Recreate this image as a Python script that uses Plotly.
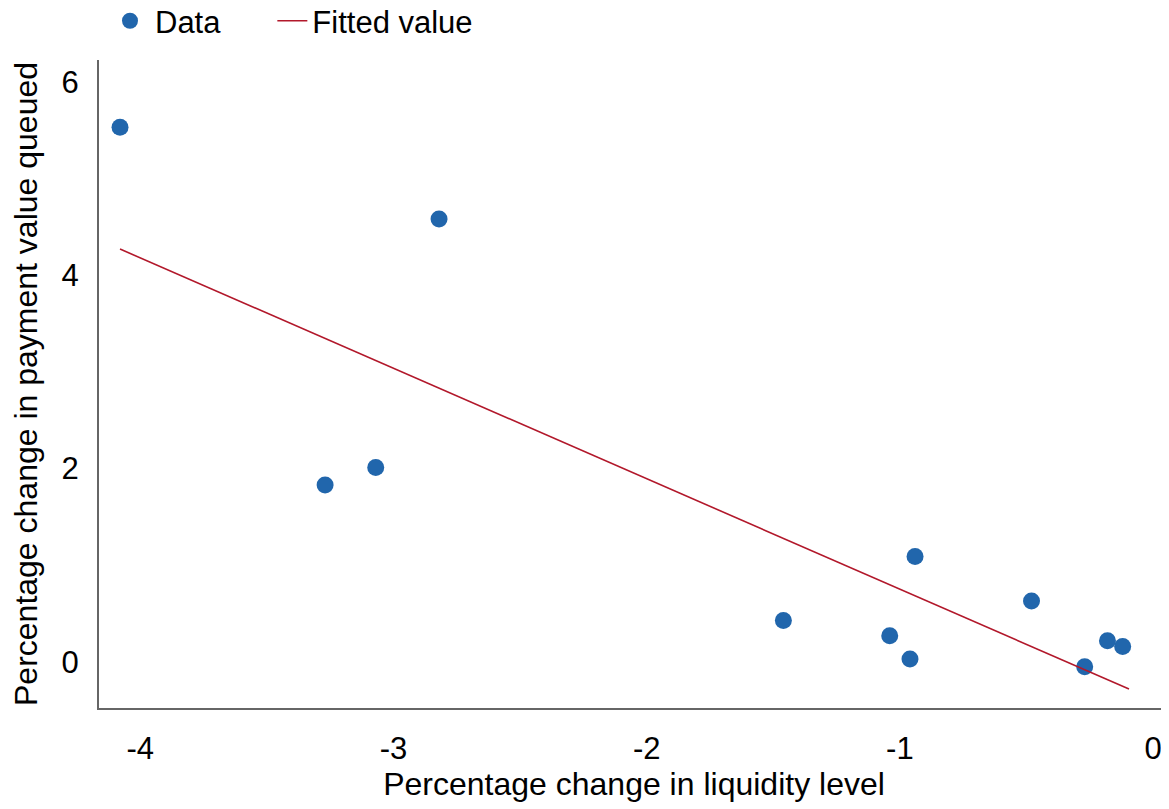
"""Payment value queued vs liquidity level, with fitted line."""
import plotly.graph_objects as go

# observed points
liquidity_change = [-4.08, -2.82, -3.27, -3.07, -1.46, -1.04, -0.96, -0.94,
                    -0.48, -0.27, -0.18, -0.12]
queued_change = [5.53, 4.58, 1.83, 2.01, 0.43, 0.27, 0.03, 1.09,
                 0.63, -0.05, 0.22, 0.16]

# fitted line end points
fit_x = [-4.08, -0.095]
fit_y = [4.27, -0.28]

x_tick_vals = [-4, -3, -2, -1, 0]
x_tick_text = ["-4", "-3", "-2", "-1", "0"]
y_tick_vals = [0, 2, 4, 6]
y_tick_text = ["0", "2", "4", "6"]

FONT = "Liberation Sans, Arial, sans-serif"
BLUE = "#2166ac"
RED = "#b2182b"

fig = go.Figure()
fig.add_trace(go.Scatter(
    x=liquidity_change, y=queued_change,
    mode="markers", name="Data", legend="legend",
    marker=dict(color=BLUE, size=17, line=dict(width=0)),
))
fig.add_trace(go.Scatter(
    x=fit_x, y=fit_y,
    mode="lines", name="Fitted value", legend="legend2",
    line=dict(color=RED, width=1.6),
))

# page has an 8px body margin, so the figure is sized/offset to suit
legend_common = dict(orientation="h", xanchor="left", y=1.06,
                     yanchor="middle", font=dict(size=31),
                     bgcolor="rgba(0,0,0,0)")

fig.update_layout(
    width=1161, height=801,
    margin=dict(l=91, r=0, t=52, b=101, autoexpand=False),
    paper_bgcolor="white", plot_bgcolor="white",
    font=dict(family=FONT, size=32, color="black"),
    showlegend=True,
    legend=dict(x=0.0056, itemwidth=40, **legend_common),
    legend2=dict(x=0.162, itemwidth=30, **legend_common),
    xaxis=dict(
        range=[-4.163, 0.063],
        tickvals=x_tick_vals, ticktext=x_tick_text,
        showgrid=False, zeroline=False, automargin=False,
        showline=True, linecolor="#666666", linewidth=2,
        ticks="outside", ticklen=12, tickcolor="rgba(0,0,0,0)",
        tickfont=dict(size=31),
        title=dict(text="Percentage change in liquidity level",
                   font=dict(size=32), standoff=4),
    ),
    yaxis=dict(
        range=[-0.476, 6.225],
        tickvals=y_tick_vals, ticktext=y_tick_text,
        showgrid=False, zeroline=False, automargin=False,
        showline=True, linecolor="#666666", linewidth=2,
        ticks="outside", ticklen=12, tickcolor="rgba(0,0,0,0)",
        tickfont=dict(size=31),
        title=dict(text="Percentage change in payment value queued",
                   font=dict(size=32), standoff=14),
    ),
)

fig.write_html("out.html")
